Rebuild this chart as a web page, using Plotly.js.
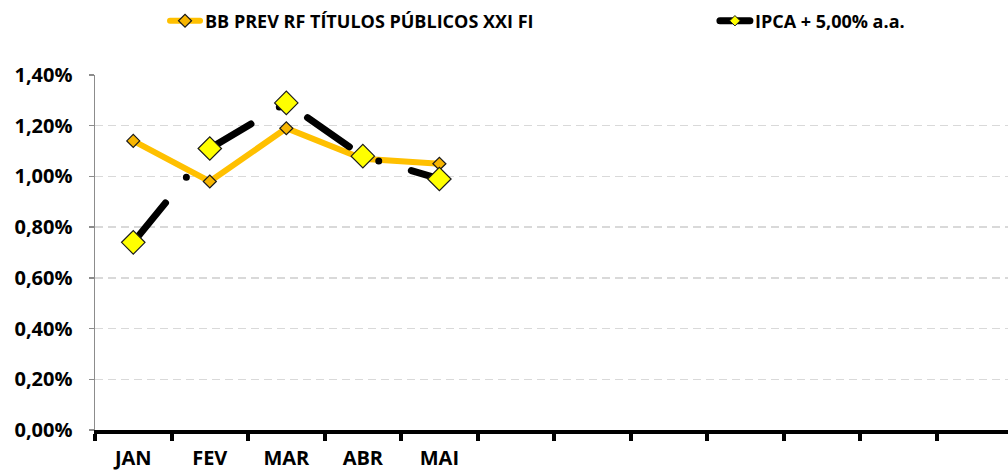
<!DOCTYPE html>
<html>
<head>
<meta charset="utf-8">
<script src="https://cdn.plot.ly/plotly-3.0.1.min.js"></script>
<style>
html,body{margin:0;padding:0;background:#fff;}
#chart{width:1008px;height:473px;}
.js-line{stroke-linecap:round !important;}
.legendlines path{stroke-linecap:round !important;}
</style>
</head>
<body>
<div id="chart"></div>
<script>
// Data
const months = ['JAN','FEV','MAR','ABR','MAI','JUN','JUL','AGO','SET','OUT','NOV','DEZ'];
const tickLabels = ['JAN','FEV','MAR','ABR','MAI','','','','','','',''];
const fundName = 'BB PREV RF TÍTULOS PÚBLICOS XXI FI';
const benchName = 'IPCA + 5,00% a.a.';
const fundValues = [0.0114, 0.0098, 0.0119, 0.0107, 0.0105];
const benchValues = [0.0074, 0.0111, 0.0129, 0.0108, 0.0099];
const yTickVals = [0, 0.002, 0.004, 0.006, 0.008, 0.010, 0.012, 0.014];

const FONT = '"Open Sans", Lato, "Liberation Sans", sans-serif';

const benchLine = {color: '#000000', width: 7, dash: '51px,33px,0px,34px'};
const traces = [
  {
    type: 'scatter', mode: 'lines+markers',
    name: fundName, legend: 'legend',
    x: months.slice(0, fundValues.length), y: fundValues,
    line: {color: '#FFC000', width: 6},
    marker: {symbol: 'diamond', size: 10, color: '#F7B500', line: {color: '#1a1a1a', width: 1.2}},
    hoverinfo: 'skip'
  },
  {
    type: 'scatter', mode: 'lines+markers',
    name: benchName, showlegend: false,
    x: months.slice(0, benchValues.length), y: benchValues,
    line: benchLine,
    marker: {symbol: 'diamond', size: 18, color: '#FFFF00', line: {color: '#1a1a1a', width: 1.2}},
    hoverinfo: 'skip'
  },
  {
    // legend entry only (small marker like the reference legend)
    type: 'scatter', mode: 'lines+markers',
    name: benchName, legend: 'legend2', showlegend: true,
    x: [null], y: [null],
    line: benchLine,
    marker: {symbol: 'diamond', size: 8, color: '#FFFF00', line: {color: '#1a1a1a', width: 1}},
    hoverinfo: 'skip'
  }
];

const legendFont = {family: FONT, size: 18, color: '#000', weight: 'bold'};
const layout = {
  width: 1008, height: 473,
  margin: {l: 95, r: 0, t: 75, b: 43, pad: 0},
  paper_bgcolor: '#ffffff', plot_bgcolor: '#ffffff',
  separators: ',.',
  font: {family: FONT, size: 17, color: '#000', weight: 'bold'},
  showlegend: true,
  legend: {
    orientation: 'h', x: 0.0767, xanchor: 'left', y: 1.152, yanchor: 'middle',
    font: legendFont, bgcolor: 'rgba(0,0,0,0)'
  },
  legend2: {
    orientation: 'h', x: 0.679, xanchor: 'left', y: 1.152, yanchor: 'middle',
    font: legendFont, bgcolor: 'rgba(0,0,0,0)'
  },
  xaxis: {
    type: 'category',
    categoryorder: 'array', categoryarray: months,
    range: [-0.5, 11.43],
    tickmode: 'array', tickvals: months, ticktext: tickLabels,
    tickson: 'boundaries',
    ticks: 'outside', ticklen: 7, tickwidth: 4, tickcolor: '#000',
    showline: true, linecolor: '#000', linewidth: 4,
    showgrid: false, zeroline: false,
    ticklabelstandoff: 7,
    tickfont: {family: FONT, size: 20, color: '#000', weight: 'bold'},
    fixedrange: true
  },
  yaxis: {
    range: [0, 0.014],
    tickmode: 'array', tickvals: yTickVals,
    tickformat: '.2%',
    ticks: 'outside', ticklen: 5, tickwidth: 1.5, tickcolor: '#8c8c8c',
    showline: true, linecolor: '#8c8c8c', linewidth: 1.5,
    showgrid: true, gridcolor: '#d9d9d9', gridwidth: 1.5, griddash: '8px,5px',
    zeroline: false,
    ticklabelstandoff: 12,
    tickfont: {family: FONT, size: 20, color: '#000', weight: 'bold'},
    fixedrange: true
  }
};

Plotly.newPlot('chart', traces, layout, {displayModeBar: false, staticPlot: true});
</script>
</body>
</html>
